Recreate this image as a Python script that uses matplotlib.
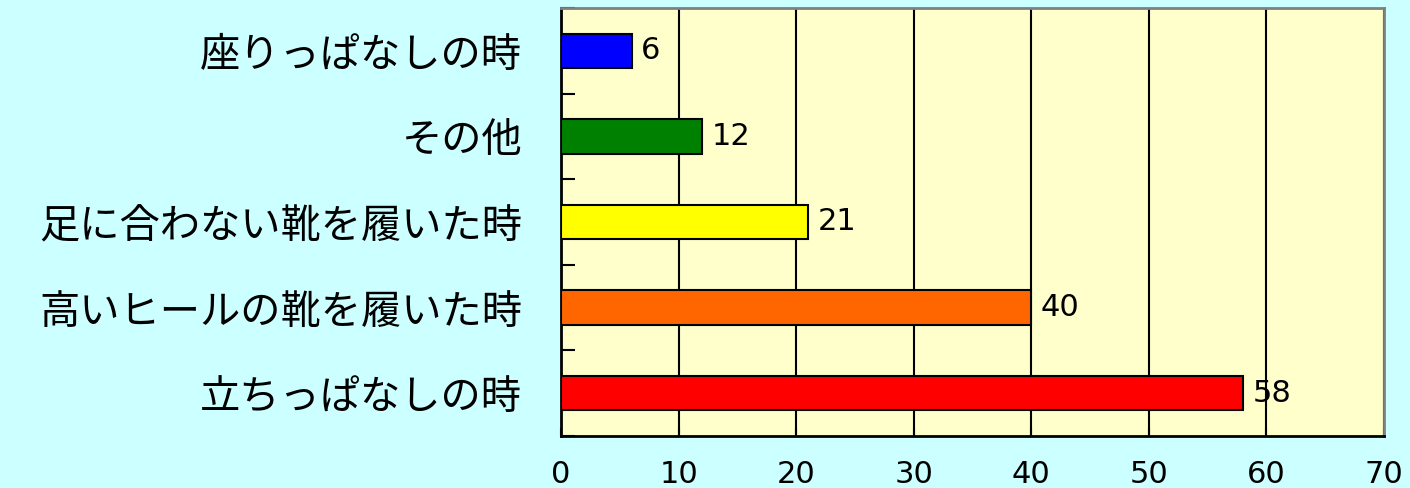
import matplotlib
matplotlib.use("Agg")
import matplotlib.pyplot as plt
import numpy as np

plt.rcParams['font.family'] = ['Noto Sans CJK JP', 'DejaVu Sans']

categories = ['座りっぱなしの時', 'その他', '足に合わない靴を履いた時', '高いヒールの靴を履いた時', '立ちっぱなしの時']
values = [6, 12, 21, 40, 58]
colors = ['#0000FF', '#008000', '#FFFF00', '#FF6600', '#FF0000']
xticks = [0, 10, 20, 30, 40, 50, 60, 70]

fig = plt.figure(figsize=(14.10, 4.88), dpi=100, facecolor='#CCFFFF')
ax = fig.add_axes([0.3979, 0.1066, 0.5837, 0.877], facecolor='#FFFFCC')

y = np.arange(len(categories))
ax.barh(y, values, height=0.4, color=colors, edgecolor='black', linewidth=1.5, zorder=3)

for yi, v in zip(y, values):
    ax.text(v + 0.8, yi, str(v), va='center', ha='left', fontsize=22,
            family=['DejaVu Sans'], zorder=4)

ax.set_xlim(0, 70)
ax.set_ylim(len(categories) - 0.5, -0.5)
ax.set_xticks(xticks)
ax.set_xticklabels([str(t) for t in xticks], fontsize=22, family=['DejaVu Sans'])
ax.tick_params(axis='x', direction='in', length=6, width=1.5, pad=17)

ax.set_yticks(y)
ax.set_yticklabels(categories, fontsize=29)
ax.tick_params(axis='y', which='major', length=0, pad=28)
ax.set_yticks(np.arange(-0.5, len(categories), 1.0), minor=True)
ax.tick_params(axis='y', which='minor', direction='in', length=10, width=1.5)

ax.xaxis.grid(True, color='black', linewidth=1.5, zorder=1)
ax.set_axisbelow(True)

ax.spines['left'].set_color('black')
ax.spines['bottom'].set_color('black')
ax.spines['top'].set_color('#808080')
ax.spines['right'].set_color('#808080')
for s in ax.spines.values():
    s.set_linewidth(2)

fig.savefig('out.png', dpi=100, facecolor=fig.get_facecolor())
